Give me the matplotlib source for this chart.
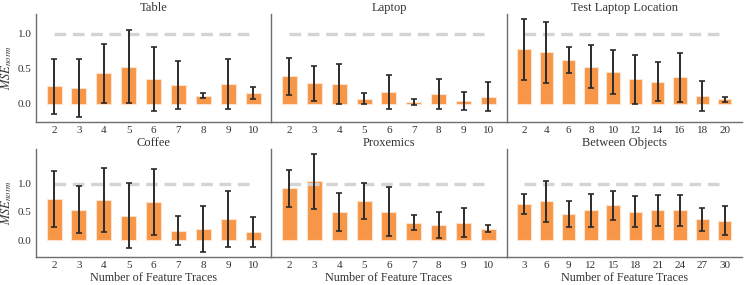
import numpy as np
import matplotlib.pyplot as plt

plt.rcParams['font.family'] = ['Liberation Serif', 'DejaVu Serif']
plt.rcParams['mathtext.fontset'] = 'stix'

# traces and values
titles = ['Table', 'Laptop', 'Test Laptop Location',
          'Coffee', 'Proxemics', 'Between Objects']

traces_table = [2, 3, 4, 5, 6, 7, 8, 9, 10]
mean_table = [0.25, 0.225, 0.436, 0.53, 0.36, 0.273, 0.115, 0.283, 0.155]
err_table = [0.39, 0.414, 0.42, 0.524, 0.455, 0.345, 0.036, 0.357, 0.09]

traces_laptop = [2, 3, 4, 5, 6, 7, 8, 9, 10]
mean_laptop = [0.393, 0.297, 0.283, 0.077, 0.168, 0.024, 0.139, 0.043, 0.10]
err_laptop = [0.268, 0.249, 0.282, 0.077, 0.245, 0.043, 0.215, 0.134, 0.208]

traces_testlaptop = [2, 4, 6, 8, 10, 12, 14, 16, 18, 20]
mean_testlaptop = [0.78, 0.738, 0.623, 0.532, 0.46, 0.35, 0.316, 0.378, 0.115, 0.067]
err_testlaptop = [0.436, 0.438, 0.185, 0.307, 0.316, 0.354, 0.28, 0.357, 0.218, 0.038]

traces_coffee = [2, 3, 4, 5, 6, 7, 8, 9, 10]
mean_coffee = [0.732, 0.536, 0.714, 0.435, 0.667, 0.167, 0.19, 0.369, 0.137]
err_coffee = [0.5, 0.414, 0.571, 0.58, 0.586, 0.253, 0.405, 0.494, 0.265]

traces_prox = [2, 3, 4, 5, 6, 7, 8, 9, 10]
mean_prox = [0.917, 1.042, 0.5, 0.696, 0.506, 0.31, 0.274, 0.31, 0.202]
err_prox = [0.327, 0.485, 0.333, 0.318, 0.43, 0.13, 0.232, 0.253, 0.065]

traces_between = [3, 6, 9, 12, 15, 18, 21, 24, 27, 30]
mean_between = [0.643, 0.685, 0.458, 0.524, 0.613, 0.5, 0.53, 0.53, 0.369, 0.339]
err_between = [0.173, 0.357, 0.235, 0.289, 0.265, 0.277, 0.274, 0.274, 0.202, 0.256]

panels = [
    (traces_table, mean_table, err_table),
    (traces_laptop, mean_laptop, err_laptop),
    (traces_testlaptop, mean_testlaptop, err_testlaptop),
    (traces_coffee, mean_coffee, err_coffee),
    (traces_prox, mean_prox, err_prox),
    (traces_between, mean_between, err_between),
]

bar_color = '#f79646'
text_color = '#333333'

fig, axes = plt.subplots(2, 3, figsize=(7.48, 2.85), dpi=100, sharey='row')
fig.subplots_adjust(left=0.048, right=0.992, top=0.951, bottom=0.098,
                    wspace=0, hspace=0.25)

for i, (ax, (traces, means, errs)) in enumerate(zip(axes.flat, panels)):
    x = np.arange(len(traces))
    ax.bar(x, means, width=0.6, color=bar_color, edgecolor='#fde3cf',
           linewidth=0.8, zorder=2)
    ax.errorbar(x, means, yerr=errs, fmt='none', ecolor='#2b2b2b',
                elinewidth=1.4, capsize=2, capthick=1.2, zorder=4)
    ax.plot([x[0], x[-1]], [1.0, 1.0], color='#d4d4d4', lw=2.4,
            dashes=(3.5, 2.0), zorder=3)
    ax.set_xticks(x)
    ax.set_xticklabels([str(t) for t in traces])
    ax.set_title(titles[i], fontsize=9, pad=2, color=text_color)
    for s in ['top', 'right']:
        ax.spines[s].set_visible(False)
    for s in ['left', 'bottom']:
        ax.spines[s].set_color('#6e6e6e')
        ax.spines[s].set_linewidth(1.0)
    ax.tick_params(length=0, labelsize=8, colors=text_color, pad=3)
    if i % 3 == 0:
        ax.set_ylabel('$MSE_{norm}$', fontsize=9, color=text_color, labelpad=3)
        ax.set_yticks([0.0, 0.5, 1.0])
    if i >= 3:
        ax.set_xlabel('Number of Feature Traces', fontsize=8.7,
                      color=text_color, labelpad=1)

fig.savefig('out.png', dpi=100)
